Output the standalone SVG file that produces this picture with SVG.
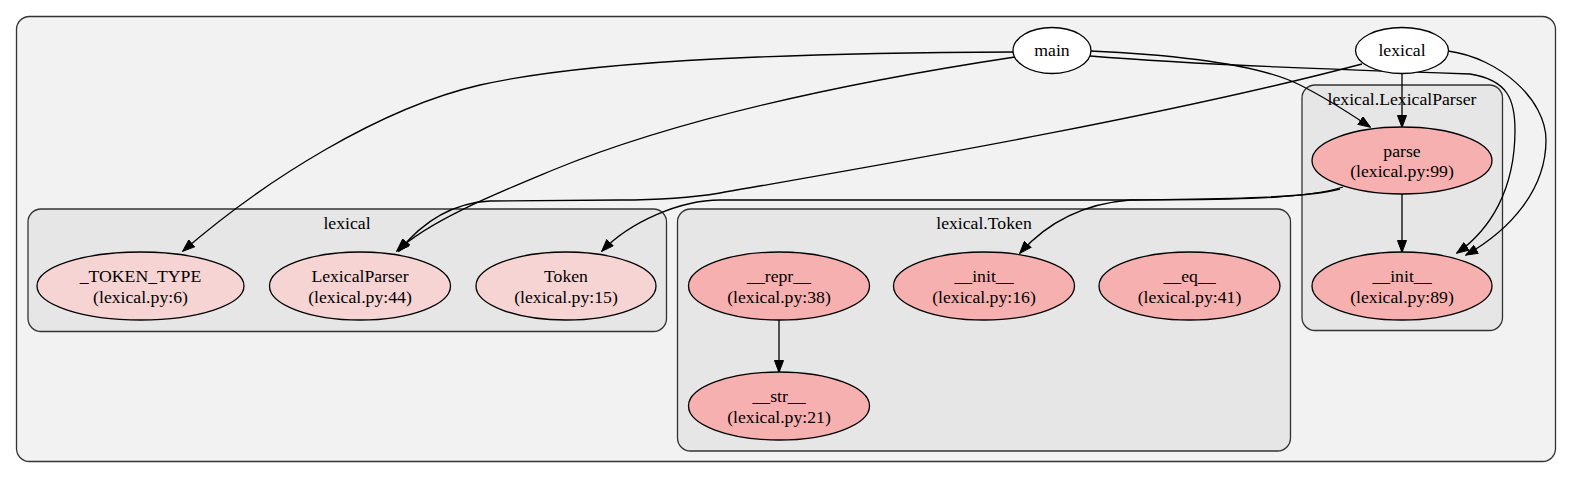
<svg xmlns="http://www.w3.org/2000/svg" width="1573" height="479" viewBox="0 0 1573 479" font-family="Liberation Serif, Times New Roman, Tinos, DejaVu Serif, FreeSerif, serif">
<style>
.cl{stroke:#333;stroke-width:1.3}
.outer{fill:#f2f2f2}
.inner{fill:#e6e6e6}
.n{stroke:#000;stroke-width:1.3}
.mod{fill:#ffffff}
.cls{fill:#f6d4d4}
.fn{fill:#f6b0b0}
.t{font-size:17.7px;fill:#000;text-anchor:middle}
.e{fill:none;stroke:#000;stroke-width:1.3;marker-end:url(#ah)}
</style>
<defs>
<marker id="ah" viewBox="0 0 13 10" refX="12" refY="5" markerWidth="13" markerHeight="10" markerUnits="userSpaceOnUse" orient="auto">
<path d="M0.5,0.5 L12.5,5 L0.5,9.5 z" fill="#000" stroke="#000" stroke-width="1"/>
</marker>
</defs>
<g id="clusters">
<rect class="cl outer" x="16.5" y="16.5" width="1539" height="445" rx="13"/>
<rect class="cl inner" x="28" y="209" width="638.5" height="122.5" rx="13"/>
<text class="t" x="347" y="229">lexical</text>
<rect class="cl inner" x="677.5" y="209" width="613" height="242" rx="13"/>
<text class="t" x="984" y="229">lexical.Token</text>
<rect class="cl inner" x="1302" y="85" width="200.5" height="245.5" rx="13"/>
<text class="t" x="1402" y="105">lexical.LexicalParser</text>
</g>
<g id="connectors">
<path class="e" d="M1014,52 C820,53 600,58 480,85 C380,108 265,180 183,251"/>
<path class="e" d="M1015,57 C850,82 680,118 553,170 C500,192 430,220 397,251"/>
<path class="e" d="M1362,64 C1150,120 850,170 720,193 C690,198 660,200 620,200 L490,201 C450,203 420,225 399,251"/>
<path class="e" d="M1343,187 C1300,201 1200,200 1100,200 L720,200 C680,200 630,222 602,251"/>
<path class="e" d="M1340,189 C1300,200 1180,199 1130,200 C1080,204 1045,225 1020,253"/>
<path class="e" d="M1090,51 C1180,55 1260,65 1300,85 C1330,100 1352,115 1370,127"/>
<path class="e" d="M1090,56 C1200,65 1350,70 1470,74 C1508,80 1515,100 1515,130 C1515,190 1490,230 1457,253"/>
<path class="e" d="M1448,51 C1500,58 1546,100 1546,140 C1546,190 1510,230 1466,255"/>
<path class="e" d="M1402,74 L1402,127"/>
<path class="e" d="M1402,194 L1402,252"/>
<path class="e" d="M779,320 L779,372"/>
</g>
<g id="node-main"><ellipse class="n mod" cx="1052" cy="50.5" rx="39" ry="23"/><text class="t" x="1052" y="56">main</text></g>
<g id="node-lexical"><ellipse class="n mod" cx="1402" cy="50.5" rx="46.5" ry="23"/><text class="t" x="1402" y="56">lexical</text></g>
<g id="node-parse"><ellipse class="n fn" cx="1402" cy="160.5" rx="90" ry="33.5"/><text class="t" x="1402" y="156.5">parse</text><text class="t" x="1402" y="177">(lexical.py:99)</text></g>
<g id="node-lp-init"><ellipse class="n fn" cx="1402" cy="286" rx="90" ry="34"/><text class="t" x="1402" y="282">__init__</text><text class="t" x="1402" y="302.5">(lexical.py:89)</text></g>
<g id="node-token-type"><ellipse class="n cls" cx="140.5" cy="286" rx="103.5" ry="34"/><text class="t" x="140.5" y="282">_TOKEN_TYPE</text><text class="t" x="140.5" y="302.5">(lexical.py:6)</text></g>
<g id="node-lexicalparser"><ellipse class="n cls" cx="360" cy="286" rx="90.5" ry="34"/><text class="t" x="360" y="282">LexicalParser</text><text class="t" x="360" y="302.5">(lexical.py:44)</text></g>
<g id="node-token"><ellipse class="n cls" cx="566" cy="286" rx="90" ry="34"/><text class="t" x="566" y="282">Token</text><text class="t" x="566" y="302.5">(lexical.py:15)</text></g>
<g id="node-repr"><ellipse class="n fn" cx="779" cy="286" rx="90.5" ry="34"/><text class="t" x="779" y="282">__repr__</text><text class="t" x="779" y="302.5">(lexical.py:38)</text></g>
<g id="node-token-init"><ellipse class="n fn" cx="984" cy="286" rx="90.5" ry="34"/><text class="t" x="984" y="282">__init__</text><text class="t" x="984" y="302.5">(lexical.py:16)</text></g>
<g id="node-eq"><ellipse class="n fn" cx="1189.5" cy="286" rx="90.5" ry="34"/><text class="t" x="1189.5" y="282">__eq__</text><text class="t" x="1189.5" y="302.5">(lexical.py:41)</text></g>
<g id="node-str"><ellipse class="n fn" cx="779" cy="406" rx="90.5" ry="34"/><text class="t" x="779" y="402">__str__</text><text class="t" x="779" y="422.5">(lexical.py:21)</text></g>
</svg>
